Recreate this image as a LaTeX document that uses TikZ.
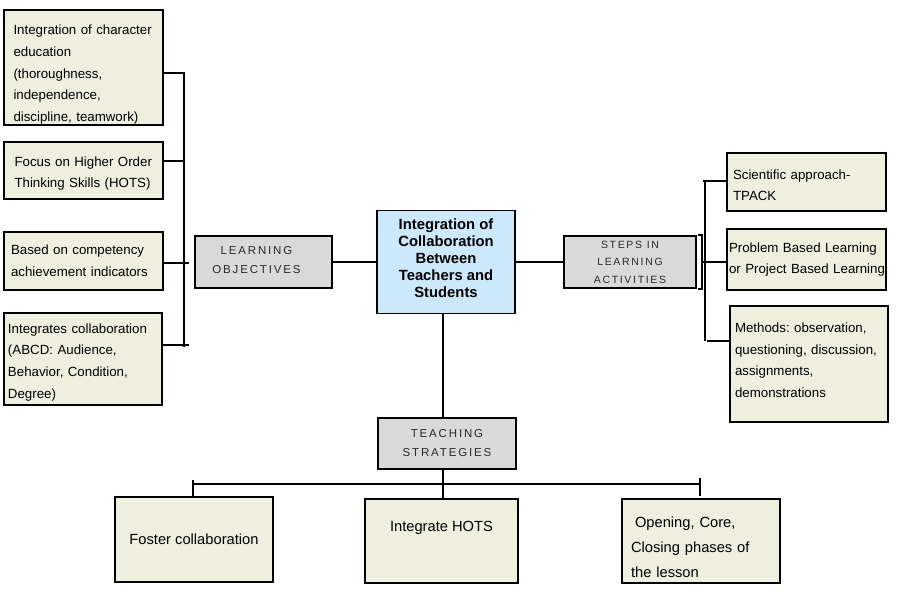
\documentclass[tikz,border=0pt]{standalone}
\usepackage{fontspec}
\setmainfont{Liberation Sans}
\frenchspacing
\definecolor{beige}{HTML}{EFEFDF}
\definecolor{cblue}{HTML}{CCE8FA}
\definecolor{labgray}{HTML}{D9D9D9}
\definecolor{labtext}{HTML}{2A2A2A}
\tikzset{
  conn/.style={line width=2.7pt},
  lbox/.style={draw, line width=1.6pt, fill=beige, align=left, inner ysep=0pt,
    font=\frenchspacing\fontsize{13.3}{21.7}\selectfont},
  bbox/.style={draw, line width=1.6pt, fill=beige, inner ysep=0pt,
    font=\frenchspacing\fontsize{14.7}{25}\selectfont},
  gbox/.style={draw, line width=1.8pt, fill=labgray, align=center, text=labtext, inner sep=0pt},
}
\begin{document}
\begin{tikzpicture}[x=1pt,y=-1pt]
\useasboundingbox[fill=white] (0,0) rectangle (897,592);

% left boxes
\node[lbox, minimum width=159pt, minimum height=115pt, text width=140pt, inner xsep=9.5pt, text height=24pt] (L1) at (83.5,67.5)
  {Integration of character\\education\\(thoroughness,\\independence,\\discipline, teamwork)};
\node[lbox, minimum width=159pt, minimum height=57pt, text width=138pt, inner xsep=10.5pt, text height=16pt] (L2) at (83.5,170.5)
  {Focus on Higher Order\\Thinking Skills (HOTS)};
\node[lbox, minimum width=159pt, minimum height=58pt, text width=145pt, inner xsep=7pt] (L3) at (83.5,261)
  {Based on competency\\achievement indicators};
\node[lbox, minimum width=158pt, minimum height=92pt, text width=150pt, inner xsep=4pt, text height=16pt] (L4) at (83,359)
  {Integrates collaboration\\(ABCD: Audience,\\Behavior, Condition,\\Degree)};

% label boxes
\node[gbox, minimum width=137pt, minimum height=52pt, text height=23pt,
  font=\fontsize{11.5}{19}\selectfont\addfontfeature{LetterSpace=16}] (LO) at (263.5,262)
  {LEARNING\kern14pt\\OBJECTIVES\kern14pt};
\node[draw, line width=1.8pt, fill=cblue, minimum width=138pt, minimum height=103pt, align=center, inner sep=0pt, text height=71pt,
  font=\bfseries\fontsize{14.8}{17}\selectfont] (C) at (446,262)
  {Integration of\\Collaboration\\Between\\Teachers and\\Students};
\node[gbox, minimum width=132pt, minimum height=52pt,
  font=\fontsize{10.5}{17.5}\selectfont\addfontfeature{LetterSpace=16}] (S) at (630,262)
  {STEPS IN\\LEARNING\\ACTIVITIES};
\node[gbox, minimum width=138pt, minimum height=51pt,
  font=\fontsize{11.5}{19}\selectfont\addfontfeature{LetterSpace=16}] (T) at (447,443.5)
  {TEACHING\\STRATEGIES};

% right boxes
\node[lbox, minimum width=159pt, minimum height=58pt, text width=147pt, inner xsep=6pt, text height=16pt] (R1) at (806.5,182)
  {Scientific approach-\\TPACK};
\node[lbox, minimum width=159pt, minimum height=61pt, text width=155pt, inner xsep=2pt] (R2) at (806.5,259.5)
  {Problem Based Learning\\\mbox{or Project Based Learning}};
\node[lbox, minimum width=158pt, minimum height=116pt, text width=148pt, inner xsep=5pt, text height=2pt] (R3) at (809,364)
  {Methods: observation,\\questioning, discussion,\\assignments,\\demonstrations};

% bottom boxes
\node[bbox, minimum width=158pt, minimum height=85pt, align=center] (B1) at (194,539.5)
  {Foster collaboration};
\node[bbox, minimum width=153pt, minimum height=84pt, align=center, text depth=30pt] (B2) at (441.5,541)
  {Integrate HOTS};
\node[bbox, minimum width=158pt, minimum height=84pt, align=left, text width=140pt, inner xsep=9pt, text height=24pt] (B3) at (701,541)
  {\hspace{4pt}Opening, Core,\\Closing phases of\\the lesson};

% left connectors
\coordinate (lbt) at (184,72);
\coordinate (lbb) at (184,347);
\coordinate (lj1) at (184,73);
\coordinate (lj2) at (184,161);
\coordinate (lj3) at (189,263);
\coordinate (lj4) at (189,345);
\draw[conn] (lbt) -- (lbb);
\draw[conn] (L1.east |- lj1) -- (lj1);
\draw[conn] (L2.east |- lj2) -- (lj2);
\draw[conn] (L3.east |- lj3) -- (lj3);
\draw[conn] (L4.east |- lj4) -- (lj4);

% center connectors
\draw[conn] (LO.east) -- (LO.east -| C.west);
\draw[conn] (S.west -| C.east) -- (S.west);
\draw[line width=2pt] ([xshift=1pt]S.north east) -- ([xshift=5pt]S.north east)
  -- ([xshift=5pt]S.south east) -- ([xshift=1pt]S.south east);

% right connectors
\coordinate (rbt) at (705,180);
\coordinate (rbb) at (705,341);
\coordinate (rj1) at (703,181);
\coordinate (rj2) at (701,262);
\coordinate (rj3) at (707,341);
\draw[conn] (rbt) -- (rbb);
\draw[conn] (rj1) -- (R1.west |- rj1);
\draw[conn] (rj2) -- (R2.west |- rj2);
\draw[conn] (rj3) -- (R3.west |- rj3);

% bottom connectors
\coordinate (tx) at (443,0);
\draw[conn] (C.south -| tx) -- (T.north -| tx);
\coordinate (hbl) at (193,484);
\coordinate (hbr) at (700,484);
\draw[conn] (hbl) -- (hbr);
\draw[conn] ([yshift=4pt]hbl) -- (hbl |- B1.north);
\draw[conn] ([yshift=6pt]hbr) -- ([yshift=-12pt]hbr);
\draw[conn] (T.south -| tx) -- (B2.north -| tx);
\draw[white, line width=2pt] (448.5,485.5) -- (448.5,497.5);
\end{tikzpicture}
\end{document}
